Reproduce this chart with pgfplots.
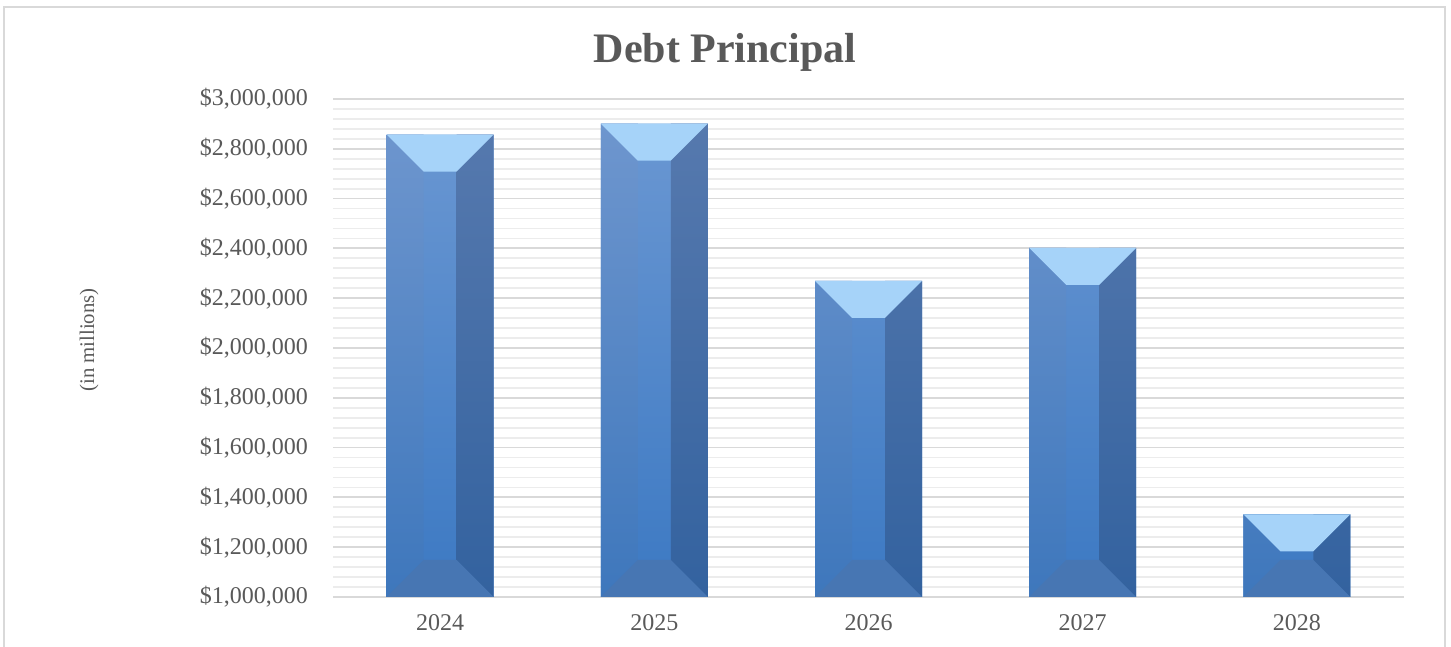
\documentclass[border=0pt]{standalone}
\usepackage{pgfplots}
\pgfplotsset{compat=1.18}
\usepackage{pgfplotstable}
\usepackage{fontspec}
\setmainfont{Liberation Serif}

\definecolor{labelgray}{HTML}{595959}
\definecolor{framegray}{HTML}{D9D9D9}
\definecolor{majorgrid}{HTML}{D9D9D9}
\definecolor{minorgrid}{HTML}{ECECEC}
\definecolor{faceTop}{HTML}{6A97D2}
\definecolor{faceBot}{HTML}{3C79C3}
\definecolor{leftTop}{HTML}{6E96CE}
\definecolor{leftBot}{HTML}{3E77BC}
\definecolor{rightTop}{HTML}{5679AE}
\definecolor{rightBot}{HTML}{33629F}
\definecolor{bevelTop}{HTML}{A6D3F9}
\definecolor{bevelBot}{HTML}{4776B3}

\pgfplotstableread{
x v
0 2857000
1 2901000
2 2270000
3 2402000
4 1332000
}\debt

\pgfplotstableread{
x v
0 1000000
1 1000000
2 1000000
3 1000000
4 1000000
}\base

\pgfdeclareplotmark{topbevel}{%
  \pgfpathmoveto{\pgfqpoint{-26.75pt}{0pt}}%
  \pgfpathlineto{\pgfqpoint{26.75pt}{0pt}}%
  \pgfpathlineto{\pgfqpoint{8.25pt}{-18.5pt}}%
  \pgfpathlineto{\pgfqpoint{-8.25pt}{-18.5pt}}%
  \pgfpathclose
  \pgfusepathqfill}
\pgfdeclareplotmark{botbevel}{%
  \pgfpathmoveto{\pgfqpoint{-26.75pt}{0pt}}%
  \pgfpathlineto{\pgfqpoint{26.75pt}{0pt}}%
  \pgfpathlineto{\pgfqpoint{8.25pt}{18.5pt}}%
  \pgfpathlineto{\pgfqpoint{-8.25pt}{18.5pt}}%
  \pgfpathclose
  \pgfusepathqfill}

\begin{document}
\begin{tikzpicture}
\useasboundingbox (0,0) rectangle (725.5pt,323.5pt);
\draw[color=framegray, line width=0.8pt] (2pt,-5pt) rectangle (722.5pt,320pt);
\node[font=\fontsize{21}{25}\selectfont\bfseries, text=labelgray] at (362.5pt,297.5pt) {Debt Principal};
\node[rotate=90, font=\fontsize{10.4}{12}\selectfont, text=labelgray] at (44.5pt,153.5pt) {(in millions)};
\begin{axis}[
  at={(166.5pt,25pt)}, anchor=south west,
  scale only axis, width=535.5pt, height=249pt,
  xmin=-0.5, xmax=4.5, ymin=0, ymax=2000000,
  xtick={0,1,2,3,4}, xticklabels={2024,2025,2026,2027,2028},
  ytick distance=200000, minor y tick num=4,
  scaled y ticks=false,
  ymajorgrids, yminorgrids,
  major grid style={color=majorgrid, line width=0.9pt},
  minor grid style={color=minorgrid, line width=0.9pt},
  axis line style={draw=none},
  major tick length=0pt, minor tick length=0pt,
  tick label style={font=\fontsize{12}{14}\selectfont, text=labelgray},
  /pgf/number format/assume math mode=true,
  yticklabel={\pgfkeys{/pgf/fpu=true}\pgfmathparse{\tick+1000000}\$\pgfmathprintnumber[fixed, precision=0, 1000 sep={,}]{\pgfmathresult}},
  yticklabel style={xshift=-9pt},
  xticklabel style={yshift=-5pt},
  clip=false,
]
\addplot[ybar, bar width=53.5pt, bar shift=0pt, draw=none, top color=faceTop, bottom color=faceBot]
  table[x=x, y expr=\thisrow{v}-1000000] {\debt};
\addplot[ybar, bar width=18.5pt, bar shift=-17.5pt, draw=none, top color=leftTop, bottom color=leftBot]
  table[x=x, y expr=\thisrow{v}-1000000] {\debt};
\addplot[ybar, bar width=18.5pt, bar shift=17.5pt, draw=none, top color=rightTop, bottom color=rightBot]
  table[x=x, y expr=\thisrow{v}-1000000] {\debt};
\addplot[only marks, mark=topbevel, mark options={fill=bevelTop, draw=none}]
  table[x=x, y expr=\thisrow{v}-1000000] {\debt};
\addplot[only marks, mark=botbevel, mark options={fill=bevelBot, draw=none}]
  table[x=x, y expr=\thisrow{v}-1000000] {\base};
\end{axis}
\end{tikzpicture}
\end{document}
